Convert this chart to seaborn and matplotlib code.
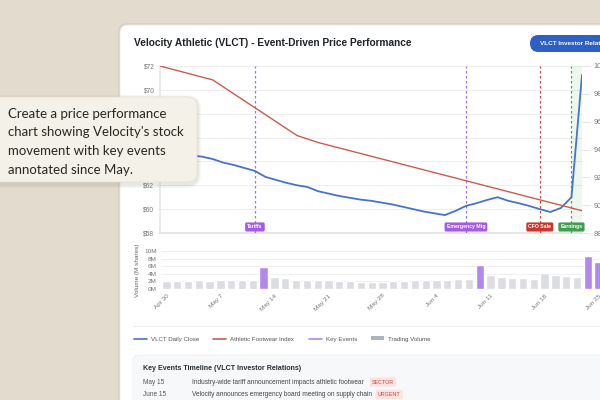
import matplotlib
matplotlib.use("Agg")
import matplotlib.pyplot as plt
import matplotlib.transforms as mtransforms
from matplotlib.patches import FancyBboxPatch, Rectangle
from matplotlib.lines import Line2D
import seaborn as sns
import pandas as pd

# --- data (trading days from Apr 30) ---
start_day = "2025-04-30"
close_prices = [65.3, 65.0, 64.8, 64.5, 64.4, 64.2, 63.9, 63.7, 63.45, 63.2,
                62.7, 62.45, 62.2, 62.0, 61.85, 61.5, 61.3, 61.1, 60.95, 60.8,
                60.7, 60.55, 60.4, 60.2, 60.0, 59.8, 59.65, 59.5, 59.85, 60.27,
                60.5, 60.77, 61.0, 60.7, 60.5, 60.27, 60.0, 59.76, 60.1, 61.0,
                71.25]
volume_m = [2.0, 2.2, 2.2, 2.4, 2.2, 2.4, 2.3, 2.5, 2.4, 5.7,
            3.2, 2.8, 2.5, 2.4, 2.3, 2.3, 2.2, 2.0, 1.9, 1.9,
            1.9, 2.0, 2.2, 2.3, 2.3, 2.4, 2.4, 2.6, 2.7, 6.3,
            3.6, 3.2, 3.0, 2.9, 2.7, 4.2, 3.8, 3.5, 3.2, 8.7,
            7.2]
index_days = ["2025-04-30", "2025-05-07", "2025-05-19", "2025-05-21", "2025-06-25"]
index_values = [100.0, 99.0, 95.0, 94.5, 89.6]
event_days = ["2025-05-13", "2025-06-10", "2025-06-19", "2025-06-24"]
event_names = ["Tariffs", "Emergency Mtg", "CFO Sale", "Earnings"]
event_colors = ["#a25ce6", "#a25ce6", "#c8372d", "#3f9c50"]
high_volume_days = ["2025-05-13", "2025-06-10", "2025-06-24", "2025-06-25"]
earnings_window = ["2025-06-24", "2025-06-25"]
price_ticks = [58, 60, 62, 64, 66, 68, 70, 72]
index_ticks = [88, 90, 92, 94, 96, 98, 100]
volume_ticks = [0, 2, 4, 6, 8, 10]
timeline_dates = ["May 15", "June 15"]
timeline_text = ["Industry-wide tariff announcement impacts athletic footwear",
                 "Velocity announces emergency board meeting on supply chain"]
timeline_tags = ["SECTOR", "URGENT"]

days = pd.bdate_range(start_day, periods=len(close_prices))
pos = {d: i for i, d in enumerate(days)}

price_df = pd.DataFrame({"i": range(len(days)), "close": close_prices})
index_df = pd.DataFrame({"i": [pos[pd.Timestamp(d)] for d in index_days], "value": index_values})
vol_df = pd.DataFrame({
    "day": [d.strftime("%Y-%m-%d") for d in days],
    "vol": volume_m,
    "kind": ["event" if d.strftime("%Y-%m-%d") in high_volume_days else "normal" for d in days],
})

BLUE = "#4673d1"
RED = "#cc5b4f"
PURPLE = "#b388eb"
GRAY_BAR = "#dcdde0"
TXT_GRAY = "#777777"

sns.set_theme(style="white")
plt.rcParams["font.family"] = ["Liberation Sans", "DejaVu Sans"]

fig = plt.figure(figsize=(6, 4), dpi=100)
fig.patch.set_facecolor("#e3dbcd")

# background layer in pixel coordinates
bg = fig.add_axes([0, 0, 1, 1], zorder=-1)
bg.set_xlim(0, 600)
bg.set_ylim(400, 0)
bg.axis("off")
bg.add_patch(FancyBboxPatch((118, 23), 560, 420, boxstyle="round,pad=0,rounding_size=9",
                            fc="#d2cabd", ec="none", alpha=0.6))
bg.add_patch(FancyBboxPatch((120, 25), 560, 420, boxstyle="round,pad=0,rounding_size=8",
                            fc="white", ec="#ece8e0", lw=0.6))
bg.text(134, 43, "Velocity Athletic (VLCT) - Event-Driven Price Performance",
        fontsize=7.3, fontweight="bold", color="#1f2328", va="center", ha="left")
bg.add_patch(FancyBboxPatch((530, 35), 110, 17, boxstyle="round,pad=0,rounding_size=8.5",
                            fc="#2d5fc4", ec="none"))
bg.text(540, 43.5, "VLCT Investor Relations", fontsize=4.6, fontweight="bold",
        color="white", va="center", ha="left")
bg.plot([133, 640], [326, 326], color="#eeeeee", lw=0.8)

# timeline box
bg.add_patch(FancyBboxPatch((133, 355), 520, 70, boxstyle="round,pad=0,rounding_size=6",
                            fc="#f6f8fa", ec="#edf0f3", lw=0.6))
bg.text(143, 369, "Key Events Timeline (VLCT Investor Relations)", fontsize=5.15,
        fontweight="bold", color="#2a2f36", va="center")
tag_x = [372, 378]
for k in range(len(timeline_dates)):
    y = 382 + 12.5 * k
    bg.text(143, y, timeline_dates[k], fontsize=4.7, color="#555555", va="center")
    bg.text(192, y, timeline_text[k], fontsize=4.7, color="#444444", va="center")
    bg.text(tag_x[k], y, timeline_tags[k], fontsize=3.9, color="#d0453c", va="center",
            bbox=dict(boxstyle="round,pad=0.4,rounding_size=0.2", fc="#fbe3e1", ec="none"))

# --- price panel ---
ax = fig.add_axes([160 / 600, 1 - 233 / 400, 422 / 600, 167 / 400])
ax.set_facecolor("none")
ax2 = ax.twinx()

sns.lineplot(data=price_df, x="i", y="close", ax=ax, color=BLUE, lw=1.3, zorder=5)
sns.lineplot(data=index_df, x="i", y="value", ax=ax2, color=RED, lw=1.0, zorder=4)

ax.set_xlim(0, len(days) - 1)
ax.set_ylim(58, 72)
ax2.set_ylim(88, 100)
ax.set_yticks(price_ticks)
ax.set_yticklabels([f"${t}" for t in price_ticks])
ax2.set_yticks(index_ticks)
ax2.set_yticklabels([str(t) for t in index_ticks])
ax.set_xticks([])
for a in (ax, ax2):
    a.set_xlabel("")
    a.set_ylabel("")
    for s in a.spines.values():
        s.set_visible(False)
ax.tick_params(axis="y", labelsize=4.8, colors=TXT_GRAY, length=2, width=0.5,
               color="#e6e6e6", pad=2)
ax2.tick_params(axis="y", labelsize=5.2, colors=TXT_GRAY, length=5.5, width=0.6,
                color="#e0e0e0", pad=3)
ax.grid(axis="y", color="#eeeeee", lw=0.7)
ax.spines["bottom"].set_visible(True)
ax.spines["bottom"].set_color("#e2e2e2")
ax.spines["left"].set_visible(True)
ax.spines["left"].set_color("#e9e9e9")

ew = [pos[pd.Timestamp(d)] for d in earnings_window]
ax.axvspan(ew[0], ew[1], color="#5cb85c", alpha=0.1, lw=0)
trans = mtransforms.blended_transform_factory(ax.transData, ax.transAxes)
for d, name, c in zip(event_days, event_names, event_colors):
    x = pos[pd.Timestamp(d)]
    ax.axvline(x, color=c, lw=0.9, ls=(0, (2, 2)), alpha=0.9, zorder=3)
    ax.text(x, 0.036, name, transform=trans, ha="center", va="center", fontsize=3.7,
            fontweight="bold", color="white", zorder=6,
            bbox=dict(boxstyle="round,pad=0.4,rounding_size=0.3", fc=c, ec="none"))

# --- volume panel ---
vax = fig.add_axes([161 / 600, 1 - 289 / 400, 443 / 600, 38 / 400])
vax.set_facecolor("none")
sns.barplot(data=vol_df, x="day", y="vol", hue="kind", dodge=False, ax=vax,
            palette={"normal": GRAY_BAR, "event": PURPLE}, width=0.77,
            legend=False, saturation=1)
vax.set_ylim(0, 10)
vax.set_xlim(-0.5, len(days) - 0.5)
vax.set_yticks(volume_ticks)
vax.set_yticklabels([f"{t}M" for t in volume_ticks])
tick_idx = list(range(0, len(days), 5))
vax.set_xticks(tick_idx)
vax.set_xticklabels([f"{days[i]:%b} {days[i].day}" for i in tick_idx], rotation=45,
                    ha="right", rotation_mode="anchor")
vax.tick_params(axis="both", labelsize=4.6, colors=TXT_GRAY, length=0, pad=3)
vax.set_xlabel("")
vax.set_ylabel("Volume (M shares)", fontsize=4.6, color="#666666", labelpad=3)
vax.grid(axis="y", color="#eeeeee", lw=0.6)
vax.set_axisbelow(True)
for s in vax.spines.values():
    s.set_visible(False)

# legend
handles = [Line2D([], [], color=BLUE, lw=1.2),
           Line2D([], [], color=RED, lw=1.2),
           Line2D([], [], color=PURPLE, lw=1.2),
           Rectangle((0, 0), 1, 1, fc="#a9b3c1", ec="none")]
fig.legend(handles, ["VLCT Daily Close", "Athletic Footwear Index", "Key Events", "Trading Volume"],
           loc="center left", bbox_to_anchor=(134 / 600, 1 - 339 / 400), ncol=4, frameon=False,
           fontsize=4.45, handlelength=2.1, handleheight=0.55, columnspacing=2.3,
           handletextpad=0.65, borderpad=0, borderaxespad=0, labelcolor="#555555")

# --- prompt bubble overlay ---
ov = fig.add_axes([0, 0, 1, 1], zorder=10)
ov.set_xlim(0, 600)
ov.set_ylim(400, 0)
ov.axis("off")
ov.set_facecolor("none")
for k, a in enumerate([0.05, 0.05, 0.06]):
    g = 4 - k
    ov.add_patch(FancyBboxPatch((-12 - g, 97 - g + 2), 209 + 2 * g, 85 + 2 * g,
                                boxstyle=f"round,pad=0,rounding_size={10 + g}",
                                fc="#7a6f5e", ec="none", alpha=a))
ov.add_patch(FancyBboxPatch((-12, 97), 209, 85, boxstyle="round,pad=0,rounding_size=10",
                            fc="#f4f1e8", ec="#e6e1d6", lw=0.5))
bubble_lines = ["Create a price performance", "chart showing Velocity's stock",
                "movement with key events", "annotated since May."]
for k, line in enumerate(bubble_lines):
    ov.text(8, 114 + 18.5 * k, line, fontsize=9.5, color="#2a2723", va="center",
            ha="left", family=["Lato", "DejaVu Sans"])

fig.savefig("out.png", dpi=100)
